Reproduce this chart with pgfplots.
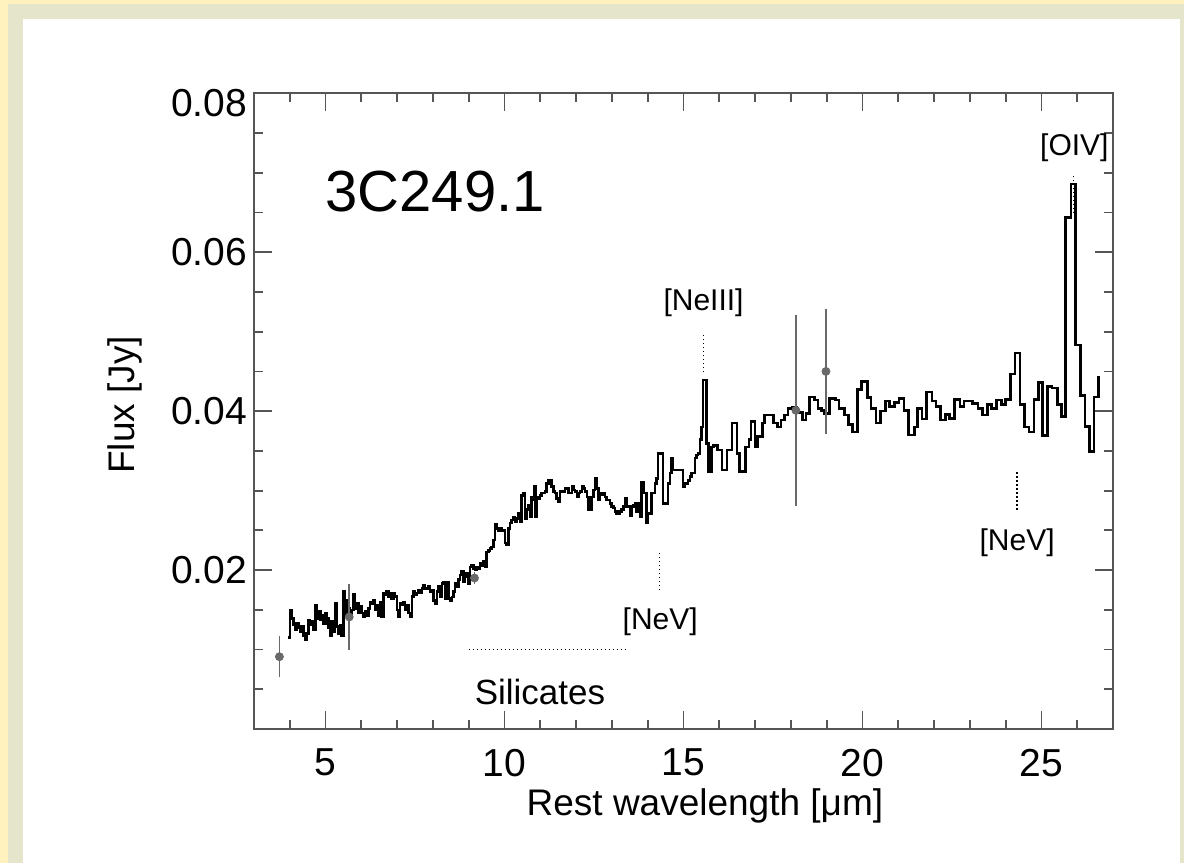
\documentclass[border=0pt]{standalone}
\usepackage{fontspec}
\setmainfont{Liberation Sans}
\usepackage{pgfplots}
\pgfplotsset{compat=1.18}
\definecolor{outery}{RGB}{255,242,191}
\definecolor{innerb}{RGB}{229,229,204}
\definecolor{axgray}{RGB}{85,85,85}
\definecolor{errgray}{RGB}{105,105,105}
\pgfplotstableread{
x y
3.96 0.0115
4.01 0.0150
4.05 0.0139
4.10 0.0131
4.15 0.0125
4.19 0.0133
4.24 0.0127
4.29 0.0122
4.33 0.0129
4.38 0.0118
4.43 0.0112
4.47 0.0120
4.52 0.0137
4.57 0.0131
4.61 0.0135
4.66 0.0125
4.71 0.0156
4.75 0.0139
4.80 0.0148
4.85 0.0137
4.89 0.0143
4.94 0.0133
4.99 0.0146
5.03 0.0139
5.08 0.0127
5.13 0.0118
5.17 0.0135
5.22 0.0122
5.26 0.0158
5.31 0.0129
5.36 0.0120
5.40 0.0131
5.45 0.0118
5.50 0.0173
5.54 0.0162
5.59 0.0143
5.64 0.0152
5.68 0.0143
5.73 0.0150
5.78 0.0169
5.82 0.0152
5.87 0.0158
5.92 0.0146
5.96 0.0154
6.01 0.0146
6.06 0.0141
6.10 0.0148
6.15 0.0143
6.20 0.0152
6.24 0.0160
6.29 0.0158
6.34 0.0162
6.38 0.0150
6.43 0.0156
6.48 0.0143
6.52 0.0160
6.57 0.0141
6.62 0.0171
6.66 0.0169
6.71 0.0173
6.76 0.0166
6.80 0.0171
6.85 0.0164
6.90 0.0171
6.94 0.0167
6.99 0.0150
7.04 0.0141
7.08 0.0158
7.13 0.0156
7.18 0.0160
7.22 0.0150
7.27 0.0156
7.32 0.0146
7.36 0.0141
7.41 0.0167
7.45 0.0173
7.50 0.0169
7.55 0.0171
7.59 0.0175
7.64 0.0171
7.69 0.0177
7.73 0.0181
7.78 0.0177
7.87 0.0179
7.92 0.0173
7.97 0.0175
8.01 0.0162
8.06 0.0158
8.11 0.0173
8.15 0.0179
8.20 0.0166
8.25 0.0183
8.29 0.0185
8.34 0.0164
8.39 0.0185
8.43 0.0164
8.48 0.0162
8.53 0.0166
8.57 0.0173
8.62 0.0183
8.66 0.0179
8.71 0.0188
8.76 0.0194
8.80 0.0198
8.85 0.0185
8.90 0.0192
8.94 0.0196
8.99 0.0183
9.04 0.0204
9.08 0.0206
9.13 0.0202
9.18 0.0200
9.22 0.0204
9.27 0.0202
9.31 0.0208
9.36 0.0206
9.41 0.0211
9.45 0.0204
9.50 0.0223
9.55 0.0225
9.59 0.0227
9.64 0.0229
9.69 0.0238
9.73 0.0257
9.78 0.0252
9.83 0.0250
9.87 0.0252
9.92 0.0250
9.97 0.0250
10.01 0.0234
10.06 0.0232
10.11 0.0252
10.15 0.0259
10.20 0.0263
10.25 0.0267
10.29 0.0261
10.34 0.0265
10.38 0.0271
10.43 0.0261
10.48 0.0294
10.52 0.0297
10.57 0.0265
10.62 0.0276
10.66 0.0282
10.71 0.0267
10.76 0.0292
10.80 0.0288
10.84 0.0305
10.87 0.0267
10.90 0.0292
10.94 0.0290
10.99 0.0294
11.03 0.0297
11.08 0.0297
11.13 0.0299
11.17 0.0309
11.22 0.0313
11.27 0.0313
11.31 0.0305
11.36 0.0299
11.41 0.0297
11.45 0.0290
11.50 0.0286
11.55 0.0299
11.60 0.0299
11.69 0.0303
11.78 0.0297
11.88 0.0305
11.92 0.0301
11.97 0.0299
12.02 0.0292
12.06 0.0297
12.11 0.0299
12.16 0.0305
12.20 0.0303
12.25 0.0299
12.30 0.0292
12.34 0.0276
12.43 0.0292
12.48 0.0301
12.53 0.0315
12.57 0.0303
12.62 0.0288
12.67 0.0297
12.71 0.0295
12.76 0.0297
12.81 0.0292
12.85 0.0288
12.95 0.0284
12.99 0.0280
13.04 0.0278
13.09 0.0274
13.13 0.0271
13.22 0.0274
13.27 0.0276
13.32 0.0280
13.36 0.0290
13.41 0.0280
13.50 0.0269
13.55 0.0280
13.60 0.0282
13.64 0.0284
13.69 0.0274
13.74 0.0284
13.78 0.0267
13.83 0.0311
13.88 0.0297
13.97 0.0259
14.01 0.0271
14.11 0.0297
14.20 0.0309
14.25 0.0315
14.29 0.0347
14.43 0.0284
14.57 0.0309
14.62 0.0322
14.67 0.0341
14.71 0.0326
14.99 0.0305
15.04 0.0309
15.13 0.0313
15.18 0.0318
15.22 0.0322
15.32 0.0341
15.36 0.0345
15.41 0.0347
15.46 0.0364
15.50 0.0380
15.54 0.0439
15.65 0.0359
15.69 0.0324
15.79 0.0355
15.84 0.0357
15.95 0.0351
16.08 0.0326
16.22 0.0351
16.36 0.0385
16.50 0.0347
16.56 0.0324
16.73 0.0355
16.83 0.0364
16.89 0.0387
17.00 0.0355
17.06 0.0368
17.20 0.0385
17.26 0.0395
17.52 0.0385
17.62 0.0380
17.72 0.0389
17.82 0.0395
17.92 0.0403
18.05 0.0405
18.15 0.0398
18.33 0.0389
18.42 0.0397
18.52 0.0418
18.66 0.0414
18.76 0.0403
18.85 0.0401
18.94 0.0397
19.08 0.0416
19.24 0.0414
19.35 0.0403
19.49 0.0395
19.61 0.0383
19.72 0.0374
19.86 0.0427
19.98 0.0437
20.14 0.0417
20.24 0.0403
20.38 0.0385
20.51 0.0400
20.64 0.0413
20.76 0.0406
20.90 0.0411
21.02 0.0416
21.16 0.0401
21.29 0.0370
21.45 0.0380
21.54 0.0403
21.66 0.0390
21.79 0.0424
21.94 0.0413
22.06 0.0406
22.18 0.0389
22.32 0.0396
22.44 0.0391
22.57 0.0415
22.72 0.0406
22.84 0.0413
23.08 0.0410
23.23 0.0403
23.36 0.0395
23.49 0.0408
23.61 0.0403
23.74 0.0414
23.89 0.0408
24.00 0.0415
24.13 0.0447
24.26 0.0473
24.40 0.0408
24.52 0.0380
24.65 0.0374
24.79 0.0415
24.91 0.0436
25.03 0.0369
25.17 0.0431
25.30 0.0429
25.45 0.0408
25.56 0.0393
25.68 0.0644
25.83 0.0686
25.95 0.0483
26.09 0.0420
26.22 0.0381
26.34 0.0349
26.47 0.0418
26.59 0.0443
26.64 0.0443
}\spec
\begin{document}
\begin{tikzpicture}[x=1pt,y=1pt]
\fill[outery] (0,0) rectangle (592,431.5);
\fill[innerb] (4,0) rectangle (592,429.5);
\fill[white] (11.5,0) rectangle (590,422);
\useasboundingbox (0,0) rectangle (592,431.5);
\begin{axis}[
  at={(127pt,67pt)}, anchor=south west,
  width=429.5pt, height=317.85pt, scale only axis,
  xmin=3, xmax=27, ymin=0, ymax=0.08,
  xtick={5,10,15,20,25},
  minor xtick={4,6,7,8,9,11,12,13,14,16,17,18,19,21,22,23,24,26},
  ytick={0.02,0.04,0.06},
  extra y ticks={0.08},
  extra y tick style={yticklabel style={yshift=-5pt}},
  minor ytick={0.005,0.01,0.015,0.025,0.03,0.035,0.045,0.05,0.055,0.065,0.07,0.075},
  scaled y ticks=false,
  yticklabel style={/pgf/number format/fixed, /pgf/number format/fixed zerofill, /pgf/number format/precision=2},
  xticklabel shift=6.5pt,
  xticklabel style={anchor=north},
  /pgf/number format/assume math mode=true,
  tick label style={font=\fontsize{19.5}{22}\selectfont, black},
  tick align=inside, xtick pos=both, ytick pos=both,
  major tick length=9pt, minor tick length=4.5pt,
  every tick/.style={axgray, line width=0.9pt},
  axis line style={axgray, line width=0.9pt},
  xlabel={Rest wavelength [μm]},
  ylabel={Flux [Jy]},
  label style={font=\fontsize{18.5}{22}\selectfont},
  xlabel style={at={(axis description cs:0.525,-0.121)}, anchor=center},
  ylabel style={at={(axis description cs:-0.150,0.51)}, anchor=center},
  clip=false,
]
\addplot[const plot, black, line width=1.3pt] table[x=x, y=y] {\spec};
\addplot[only marks, mark=*, mark size=2pt, errgray,
  error bars/.cd, y dir=both, y explicit, error mark=none,
  error bar style={errgray, line width=0.9pt}]
  coordinates {
  (3.71,0.0091) +- (0,0.0026)
  (5.66,0.0141) +- (0,0.0041)
  (9.16,0.0190) +- (0,0.0008)
  (18.14,0.0401) +- (0,0.0120)
  (18.98,0.0450) +- (0,0.0079)
  };
\addplot[black, line width=0.6pt, dash pattern=on 0.6pt off 1.4pt] coordinates {(15.56,0.0449) (15.56,0.0499)};
\addplot[black, line width=0.6pt, dash pattern=on 0.6pt off 1.4pt] coordinates {(25.89,0.0649) (25.89,0.0699)};
\addplot[black, line width=0.6pt, dash pattern=on 0.6pt off 1.4pt] coordinates {(24.32,0.0276) (24.32,0.0326)};
\addplot[black, line width=0.6pt, dash pattern=on 0.6pt off 1.4pt] coordinates {(14.33,0.0175) (14.33,0.0225)};
\addplot[black, line width=0.6pt, dash pattern=on 0.6pt off 1.4pt] coordinates {(9.0,0.0100) (13.46,0.0100)};
\node[font=\fontsize{29}{32}\selectfont] at (axis cs:8.06,0.0676) {3C249.1};
\node[font=\fontsize{15}{18}\selectfont] at (axis cs:15.56,0.0536) {[NeIII]};
\node[font=\fontsize{15}{18}\selectfont] at (axis cs:25.92,0.0731) {[OIV]};
\node[font=\fontsize{15}{18}\selectfont] at (axis cs:24.32,0.0234) {[NeV]};
\node[font=\fontsize{15}{18}\selectfont] at (axis cs:14.35,0.01346) {[NeV]};
\node[font=\fontsize{17.5}{20}\selectfont] at (axis cs:10.99,0.00465) {Silicates};
\end{axis}
\end{tikzpicture}
\end{document}
